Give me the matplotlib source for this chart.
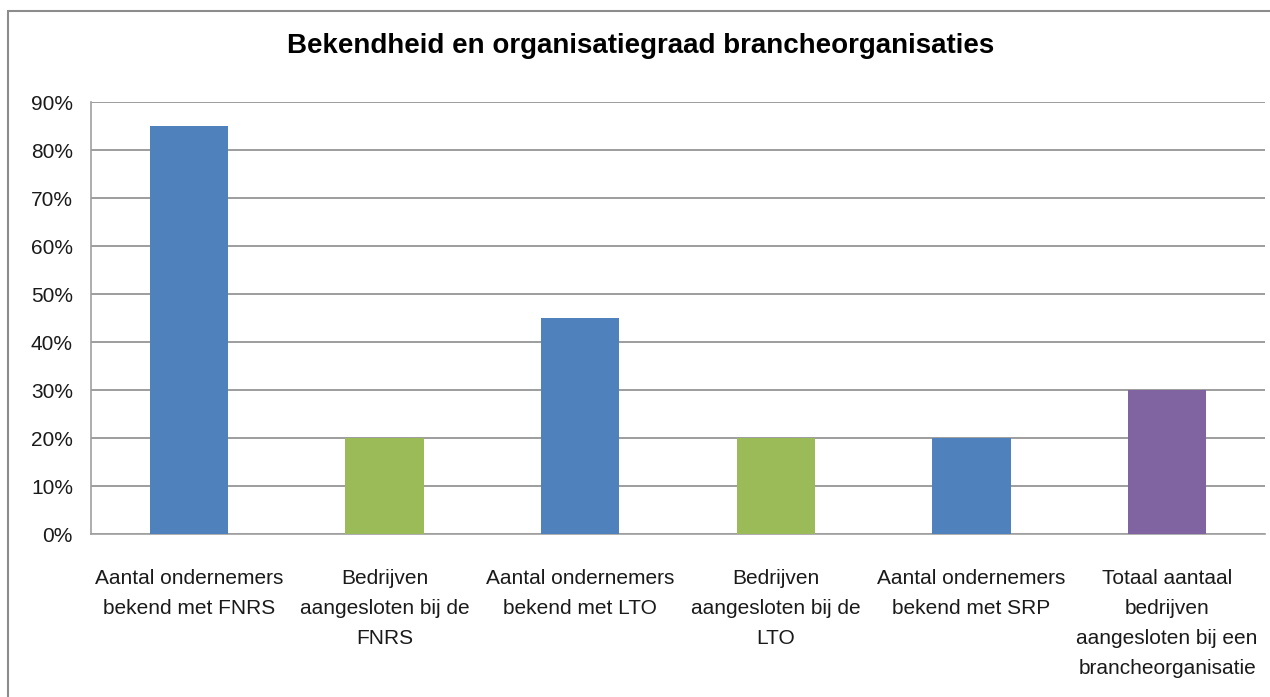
import matplotlib.pyplot as plt
import matplotlib.patches as mpatches
from matplotlib.ticker import FuncFormatter

plt.rcParams.update({
    "font.family": ["Liberation Sans", "DejaVu Sans"],
})

categories = [
    "Aantal ondernemers\nbekend met FNRS",
    "Bedrijven\naangesloten bij de\nFNRS",
    "Aantal ondernemers\nbekend met LTO",
    "Bedrijven\naangesloten bij de\nLTO",
    "Aantal ondernemers\nbekend met SRP",
    "Totaal aantaal\nbedrijven\naangesloten bij een\nbrancheorganisatie",
]
values = [0.85, 0.20, 0.45, 0.20, 0.20, 0.30]
colors = ["#4F81BD", "#9BBB59", "#4F81BD", "#9BBB59", "#4F81BD", "#8064A2"]
title = "Bekendheid en organisatiegraad brancheorganisaties"

fig = plt.figure(figsize=(12.7, 6.97), dpi=100)
ax = fig.add_axes([91/1270, 1-534/697, (1265-91)/1270, (534-102)/697])

x = range(len(categories))
ax.bar(x, values, width=0.4, color=colors, zorder=3)

ax.set_ylim(0, 0.9)
ax.set_xlim(-0.5, len(categories)-0.5)
ax.set_yticks([i/10 for i in range(10)])
ax.yaxis.set_major_formatter(FuncFormatter(lambda v, p: "{:.0f}%".format(v*100)))
ax.set_xticks(list(x))
ax.set_xticklabels(categories, fontsize=15, linespacing=1.74, color="#1a1a1a")
ax.tick_params(axis="y", length=0, pad=13, labelsize=15, labelcolor="#1a1a1a")
ax.tick_params(axis="x", length=0, pad=25)

ax.grid(axis="y", color="#8c8c8c", lw=1.2, zorder=0)
for s in ["top", "right"]:
    ax.spines[s].set_visible(False)
ax.spines["left"].set_color("#a0a0a0")
ax.spines["bottom"].set_color("#a0a0a0")
ax.spines["left"].set_linewidth(1.2)
ax.spines["bottom"].set_linewidth(1.2)

fig.text(641/1270, 1-46/697, title, ha="center", va="center", fontsize=20, fontweight="bold")

# chart border
fig.patches.append(mpatches.Rectangle((8/1270, -0.1), 1.2, 1.1-11/697, transform=fig.transFigure,
                                      fill=False, ec="#8c8c8c", lw=1.5))

fig.savefig("out.png", dpi=100)
